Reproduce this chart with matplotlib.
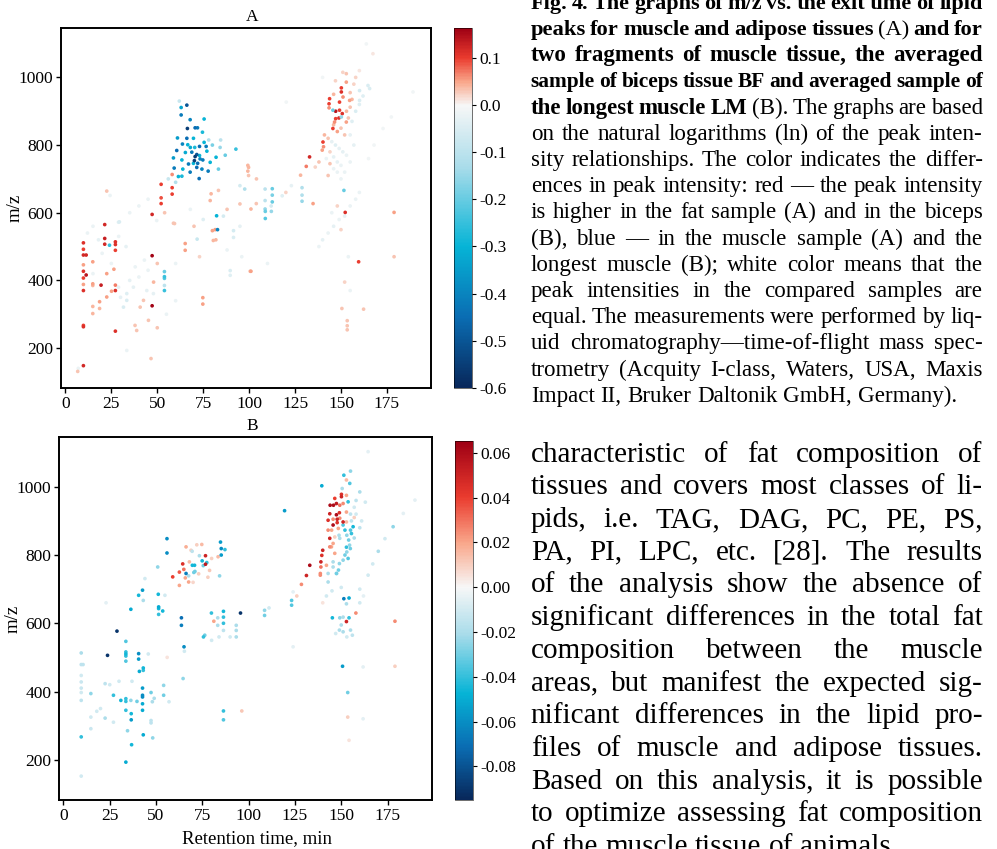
import numpy as np
import matplotlib
matplotlib.use("Agg")
import matplotlib.pyplot as plt
from matplotlib.colors import LinearSegmentedColormap, Normalize
from matplotlib.ticker import FormatStrFormatter

plt.rcParams['font.family'] = ['Liberation Serif', 'DejaVu Serif']
plt.rcParams['axes.unicode_minus'] = False

# peaks as (retention time [min], m/z, ln intensity difference)
# --- A: muscle vs adipose ---
a_muscle_cluster = [
    (66.1, 918, -0.50), (63.0, 911, -0.33), (63.0, 889, -0.42), (67.9, 875, -0.40), (75.5, 877, -0.30),
    (66.4, 849, -0.55), (70.6, 851, -0.45), (71.9, 851, -0.42), (74.6, 838, -0.28), (61.0, 821, -0.35),
    (66.1, 820, -0.45), (69.7, 820, -0.30), (63.7, 803, -0.40), (66.6, 801, -0.30), (68.0, 793, -0.32),
    (70.4, 793, -0.28), (73.0, 796, -0.45), (75.5, 808, -0.30), (76.6, 796, -0.42), (60.6, 784, -0.45),
    (65.3, 778, -0.32), (68.8, 779, -0.42), (71.5, 772, -0.50), (73.0, 769, -0.30), (77.0, 782, -0.30),
    (74.8, 756, -0.42), (82.0, 764, -0.30), (70.6, 766, -0.55), (58.8, 762, -0.35), (63.4, 756, -0.30),
    (67.0, 744, -0.42), (69.7, 746, -0.30), (72.0, 746, -0.45), (78.8, 749, -0.30), (59.2, 732, -0.42),
    (63.9, 729, -0.30), (67.9, 720, -0.42), (71.5, 734, -0.45), (74.3, 729, -0.40), (77.7, 723, -0.42),
    (61.5, 707, -0.30), (63.4, 708, -0.28), (72.8, 701, -0.45), (83.3, 729, -0.20), (87.0, 770, -0.20),
    (84.2, 793, -0.15), (92.8, 788, -0.25), (70.2, 754, -0.55), (73.3, 759, -0.40), (80.0, 800, -0.18),
    (84.5, 815, -0.10), (78.0, 815, -0.12), (62.0, 930, -0.08), (60.0, 690, -0.12), (56.0, 700, -0.08),
]
a_early = [
    (21.4, 565, 0.12), (47.2, 595, 0.12), (29.4, 573, -0.05), (21.4, 524, 0.13), (21.4, 507, 0.12),
    (24.0, 504, -0.25), (27.2, 514, 0.11), (27.2, 506, 0.11), (27.2, 489, 0.10), (9.8, 511, 0.11),
    (9.8, 492, 0.10), (9.8, 475, 0.12), (11.3, 475, 0.12), (14.9, 455, 0.05), (9.8, 446, 0.05),
    (9.8, 427, 0.11), (11.3, 416, 0.14), (9.8, 407, 0.10), (9.8, 388, 0.05), (9.8, 370, 0.11),
    (14.9, 390, 0.05), (14.9, 385, 0.04), (19.4, 386, 0.13), (22.5, 420, 0.05), (26.4, 433, 0.05),
    (27.2, 386, 0.07), (27.2, 370, 0.11), (25.1, 368, 0.05), (22.5, 351, 0.05), (18.6, 337, 0.05),
    (18.6, 317, 0.04), (14.9, 323, 0.04), (14.9, 302, 0.04), (9.8, 263, 0.11), (9.8, 267, 0.10),
    (27.2, 250, 0.11), (9.8, 148, 0.12), (6.7, 131, 0.03), (47.2, 473, 0.16), (47.2, 325, 0.16),
    (53.9, 426, -0.20), (53.9, 411, -0.25), (53.9, 406, -0.22), (53.9, 370, -0.25), (53.9, 385, -0.10),
    (65.2, 509, 0.05), (65.2, 489, 0.05), (82.3, 591, -0.30), (82.8, 550, -0.40), (81.5, 550, 0.05),
    (81.9, 520, 0.04), (71.7, 522, -0.08), (74.8, 349, 0.05), (74.8, 330, 0.05), (59.4, 568, 0.03),
    (58.1, 713, 0.06), (52.1, 684, 0.10), (58.1, 674, 0.10), (58.1, 655, 0.10), (52.1, 644, 0.09),
    (52.1, 627, 0.10), (22.5, 664, 0.03),
]
a_early_faint = [
    (28.9, 380, -0.03), (33.4, 361, -0.04), (37.0, 380, -0.03), (33.4, 341, -0.05), (40.7, 321, 0.03),
    (44.3, 370, -0.03), (47.9, 361, -0.03), (42.5, 341, 0.03), (37.9, 267, 0.03), (38.8, 252, 0.03),
    (45.2, 282, 0.03), (33.4, 193, -0.02), (46.6, 169, 0.03), (31.6, 321, -0.05), (30.0, 350, -0.03),
    (35.0, 400, -0.03), (40.0, 410, -0.02), (45.0, 430, -0.02), (50.0, 450, 0.03), (48.0, 395, 0.04),
    (43.0, 460, -0.02), (38.0, 440, -0.02), (33.0, 500, -0.03), (29.0, 530, -0.02), (24.3, 651, -0.02),
    (28.9, 572, -0.04), (49.7, 577, -0.02), (40.0, 620, -0.02), (45.0, 640, -0.02), (35.0, 600, -0.02),
    (54.0, 600, 0.03), (18.0, 520, -0.03), (15.0, 560, -0.02), (12.0, 540, -0.02), (20.0, 480, -0.02),
    (25.0, 450, -0.02), (15.0, 420, -0.02), (7.0, 140, -0.02), (50.0, 260, 0.03), (55.0, 300, -0.02),
    (60.0, 340, -0.02),
]
a_middle = [
    (112.6, 671, -0.20), (112.6, 652, -0.18), (112.6, 632, -0.20), (128.8, 674, -0.12), (128.8, 652, -0.12),
    (128.8, 634, -0.15), (99.3, 740, 0.04), (99.3, 723, 0.04), (151.6, 666, -0.20), (134.8, 627, 0.05),
    (103.9, 627, 0.03), (108.8, 604, -0.20), (112.1, 604, -0.15), (108.8, 583, -0.22), (152.3, 601, 0.11),
    (178.9, 601, 0.05), (159.6, 455, 0.10), (178.9, 470, 0.03), (101.0, 427, 0.05), (150.5, 317, 0.03),
    (162.3, 315, 0.03), (153.4, 281, 0.03), (153.4, 266, 0.03), (153.4, 254, 0.03),
    (79.3, 656, 0.04), (78.8, 636, 0.04), (83.3, 666, 0.03), (99.7, 734, 0.04), (99.7, 710, 0.03),
    (97.6, 670, -0.12), (95.0, 680, -0.06), (95.0, 626, 0.03), (101.0, 611, 0.04), (108.7, 670, -0.10),
    (108.7, 636, -0.10), (108.7, 611, -0.15), (112.0, 620, -0.06), (58.8, 569, 0.03), (80.0, 547, 0.05),
    (80.5, 518, 0.04), (91.5, 547, -0.06), (91.5, 527, -0.05), (89.7, 429, -0.05), (89.7, 415, -0.04),
    (100.6, 427, 0.04), (86.0, 590, -0.06), (88.0, 610, 0.03), (75.0, 580, -0.04), (70.0, 560, 0.03),
    (68.0, 610, -0.02), (95.0, 560, -0.03), (118.0, 650, -0.04), (123.0, 680, -0.03), (120.0, 660, 0.02),
    (104.0, 700, 0.03), (88.0, 490, -0.02), (96.0, 470, -0.02), (110.0, 450, -0.02), (73.0, 470, 0.02),
    (60.0, 450, -0.02),
]
a_fat_cluster = [
    (132.9, 765, 0.12), (131.1, 737, 0.07), (128.0, 711, 0.04), (140.2, 809, 0.10), (140.5, 795, 0.06),
    (139.8, 785, 0.05), (145.6, 849, 0.10), (146.5, 868, 0.06), (147.1, 878, 0.10), (148.9, 880, 0.11),
    (147.1, 900, 0.14), (149.2, 903, 0.10), (150.7, 893, 0.11), (143.8, 937, 0.10), (143.5, 922, 0.10),
    (143.5, 910, 0.06), (149.2, 927, 0.10), (150.2, 957, 0.11), (150.2, 969, 0.10), (151.1, 942, 0.06),
    (152.9, 986, 0.05), (152.9, 1011, 0.03), (154.7, 932, 0.05), (156.0, 935, 0.04), (155.0, 912, 0.03),
    (152.9, 868, 0.05), (160.1, 932, -0.05), (160.1, 961, -0.06), (164.7, 976, -0.05), (165.6, 967, -0.05),
    (145.6, 903, -0.20), (150.2, 883, -0.15), (146.0, 860, 0.04), (148.0, 840, 0.05), (150.0, 850, 0.03),
    (153.0, 900, 0.04), (155.0, 955, 0.03), (157.0, 980, 0.02), (158.0, 1000, 0.02), (151.0, 1015, 0.02),
    (147.0, 990, 0.02), (146.0, 950, 0.04), (154.0, 880, 0.03), (156.0, 870, -0.04), (158.0, 900, -0.05),
    (160.0, 920, -0.04), (162.0, 945, -0.04), (141.0, 830, 0.04), (143.0, 820, 0.03), (145.0, 810, -0.03),
    (147.0, 800, -0.04), (149.0, 790, -0.03), (151.0, 780, -0.03), (153.0, 770, -0.02), (144.0, 780, 0.02),
    (146.0, 765, -0.03), (148.0, 750, -0.03), (150.0, 740, -0.02), (142.0, 760, -0.02), (144.0, 745, 0.03),
    (146.0, 730, -0.02), (148.0, 720, -0.02), (143.0, 710, 0.03), (150.0, 700, -0.02), (152.0, 720, -0.02),
    (155.0, 750, -0.02), (157.0, 800, -0.03), (155.0, 830, -0.03), (152.0, 830, 0.03), (138.0, 750, 0.03),
    (136.0, 735, 0.02),
    (140.0, 520, -0.03), (143.0, 540, -0.02), (146.0, 560, -0.03), (149.0, 580, -0.02), (152.0, 590, -0.03),
    (155.0, 620, -0.02), (158.0, 640, -0.02), (145.0, 600, -0.02), (148.0, 620, 0.02), (138.0, 500, -0.02),
    (160.0, 660, -0.02), (150.0, 550, 0.02), (154.0, 470, -0.02), (152.0, 395, 0.02), (155.0, 370, -0.02),
    (163.8, 1099, -0.01), (167.4, 1070, 0.01), (189.2, 957, -0.01), (177.4, 883, -0.01), (120.2, 927, -0.01),
    (172.9, 849, -0.01), (168.0, 800, -0.01), (165.0, 760, -0.01), (160.0, 1020, 0.01), (140.0, 1000, -0.01),
]

# --- B: biceps (BF) vs longest muscle (LM) ---
b_early = [
    (9.6, 513, -0.020), (9.6, 479, -0.015), (10.6, 479, -0.015), (9.6, 447, -0.010), (9.6, 428, -0.012),
    (9.6, 410, -0.012), (9.6, 397, -0.010), (9.6, 374, -0.015), (9.6, 267, -0.040), (9.6, 152, -0.010),
    (14.8, 394, -0.025), (14.8, 325, -0.010), (14.8, 291, -0.012), (18.0, 342, -0.010), (22.5, 322, -0.020),
    (22.5, 423, -0.015), (23.8, 506, -0.090), (27.0, 389, -0.040), (28.9, 577, -0.090), (33.7, 547, -0.035),
    (33.7, 516, -0.040), (33.7, 510, -0.045), (33.7, 504, -0.040), (33.7, 489, -0.035), (31.0, 374, -0.045),
    (33.7, 379, -0.040), (33.7, 371, -0.040), (33.7, 345, -0.040), (34.6, 285, -0.025), (33.7, 193, -0.050),
    (36.4, 374, -0.025), (36.6, 335, -0.045), (36.6, 317, -0.055), (36.8, 244, -0.045), (39.7, 371, -0.030),
    (40.6, 511, -0.060), (40.6, 495, -0.055), (41.0, 459, -0.050), (43.1, 469, -0.045), (43.1, 462, -0.040),
    (42.7, 410, -0.055), (42.7, 389, -0.060), (42.7, 384, -0.060), (42.7, 364, -0.050), (42.7, 345, -0.050),
    (43.1, 273, -0.050), (47.3, 397, -0.030), (47.3, 315, -0.015), (47.3, 308, -0.015), (48.2, 264, -0.025),
    (54.1, 418, -0.025), (54.1, 389, -0.030), (45.8, 510, -0.010), (36.4, 641, -0.050), (40.6, 682, -0.045),
    (42.7, 697, -0.055), (43.1, 667, -0.020), (44.0, 731, -0.010), (50.9, 765, -0.025), (51.2, 685, -0.045),
    (51.4, 648, -0.050), (51.4, 643, -0.045), (51.4, 626, -0.040), (53.6, 636, -0.045), (54.8, 682, -0.010),
    (55.9, 848, -0.060), (55.9, 806, -0.060), (63.7, 616, -0.070), (63.7, 594, -0.065), (65.1, 531, -0.060),
    (65.3, 518, -0.010), (64.6, 438, -0.025), (20.0, 350, -0.010), (25.0, 420, -0.010), (30.0, 430, -0.010),
    (27.0, 310, -0.010), (48.0, 370, -0.020), (49.0, 380, -0.020), (57.0, 370, -0.010), (37.0, 430, -0.010),
    (23.0, 660, -0.005), (56.0, 500, 0.005),
]
b_middle = [
    (59.0, 736, 0.040), (62.6, 750, 0.035), (64.4, 774, 0.045), (65.0, 758, 0.030), (62.6, 711, 0.020),
    (65.8, 733, 0.020), (67.6, 721, 0.020), (66.2, 824, 0.018), (68.9, 814, 0.010), (74.7, 831, 0.015),
    (76.7, 798, 0.050), (76.7, 773, 0.055), (78.9, 755, 0.012), (83.5, 795, 0.015), (69.5, 811, -0.015),
    (69.6, 770, -0.045), (70.8, 770, -0.045), (71.0, 752, -0.030), (66.2, 746, -0.065), (70.4, 749, -0.030),
    (73.4, 798, -0.020), (74.9, 783, -0.045), (77.4, 778, -0.040), (75.5, 769, -0.030), (67.6, 739, -0.020),
    (84.3, 739, -0.025), (84.8, 838, -0.055), (85.2, 819, -0.060), (85.2, 800, -0.055), (87.2, 816, -0.040),
    (72.0, 830, 0.010), (80.0, 790, 0.010), (68.0, 780, 0.015), (73.0, 745, 0.010), (78.0, 735, 0.010),
    (70.0, 720, 0.008),
    (75.6, 560, -0.040), (76.3, 565, -0.030), (79.9, 630, -0.040), (81.2, 606, 0.020), (83.3, 616, -0.020),
    (83.3, 594, -0.020), (86.4, 635, -0.045), (86.4, 618, -0.040), (86.4, 600, -0.040), (86.4, 579, -0.015),
    (93.3, 594, -0.020), (93.3, 579, -0.020), (93.3, 560, -0.020), (95.6, 630, -0.090), (108.6, 638, -0.025),
    (108.6, 623, -0.030), (111.0, 645, -0.010), (86.4, 343, -0.040), (86.4, 317, -0.035), (96.3, 343, 0.012),
    (119.4, 930, -0.055), (124.0, 692, -0.005), (123.2, 667, -0.035), (123.2, 653, -0.035), (128.5, 714, 0.025),
    (131.2, 740, 0.050), (133.0, 770, 0.060), (124.0, 531, -0.005), (126.0, 680, 0.010), (80.0, 550, -0.010),
    (90.0, 560, -0.010), (84.0, 560, -0.010),
]
b_late = [
    (139.5, 1003, -0.050), (151.4, 1034, -0.040), (155.0, 1046, -0.025), (152.8, 1020, 0.015), (154.6, 1010, -0.035),
    (150.5, 995, -0.020), (150.1, 978, 0.045), (150.1, 971, 0.050), (152.8, 975, 0.020), (146.5, 966, 0.040),
    (147.4, 951, 0.055), (149.2, 946, 0.030), (151.0, 951, 0.025), (145.8, 946, 0.060), (144.0, 946, 0.060),
    (153.7, 956, -0.040), (143.8, 921, 0.050), (147.4, 918, 0.060), (149.0, 924, 0.045), (152.8, 926, 0.020),
    (155.0, 920, -0.015), (157.0, 910, 0.010), (142.9, 902, 0.045), (145.6, 905, 0.025), (147.8, 905, 0.050),
    (147.8, 895, 0.045), (149.2, 908, 0.025), (151.0, 897, 0.050), (152.8, 897, 0.015), (155.5, 900, -0.015),
    (142.9, 873, 0.025), (144.8, 873, 0.020), (145.6, 888, 0.060), (148.4, 878, 0.020), (151.0, 888, -0.035),
    (152.0, 873, -0.040), (156.4, 883, -0.045), (143.8, 849, 0.050), (143.8, 824, 0.025), (144.7, 824, 0.020),
    (145.6, 834, 0.020), (146.5, 853, 0.010), (148.8, 858, -0.020), (149.2, 849, -0.020), (153.0, 858, -0.025),
    (154.0, 844, -0.030), (154.5, 829, -0.025), (154.9, 819, -0.030), (153.0, 809, -0.025), (152.0, 800, -0.030),
    (151.0, 785, -0.025), (149.0, 775, -0.025), (148.5, 756, -0.030), (147.5, 746, -0.020), (155.5, 863, -0.040),
    (155.0, 873, -0.035), (152.8, 823, -0.040), (153.7, 790, -0.035), (140.0, 814, 0.050), (139.5, 799, 0.045),
    (139.0, 780, 0.050), (139.0, 765, 0.030), (138.7, 746, 0.025), (138.7, 741, 0.025), (142.0, 770, 0.020),
    (142.9, 746, -0.020), (142.9, 721, -0.020), (145.6, 780, -0.020), (145.6, 765, -0.020), (146.5, 805, 0.020),
    (147.4, 746, -0.030), (151.4, 672, -0.065), (154.2, 674, -0.050), (145.2, 616, -0.045), (149.2, 616, -0.025),
    (151.0, 618, -0.020), (152.8, 605, 0.050), (154.2, 616, -0.040), (157.9, 630, 0.025), (152.8, 657, -0.020),
    (150.0, 595, -0.020), (149.0, 580, -0.020), (151.0, 575, -0.020), (155.0, 580, -0.020), (156.0, 565, -0.015),
    (147.0, 570, -0.010), (153.0, 560, -0.010), (150.7, 474, -0.055), (161.8, 472, -0.005), (153.5, 397, -0.030),
    (153.5, 325, 0.010), (154.2, 257, 0.005), (161.8, 320, -0.005), (179.0, 606, 0.025), (179.0, 474, 0.010),
    (178.0, 883, -0.025), (173.6, 848, -0.010), (170.0, 811, -0.020), (167.0, 774, -0.010), (164.5, 741, -0.010),
    (160.0, 700, -0.010), (160.0, 660, -0.010), (162.0, 680, -0.005), (164.5, 1103, -0.005), (160.0, 985, -0.020),
    (163.0, 955, -0.010), (189.8, 961, -0.005), (183.5, 922, -0.005), (158.0, 960, -0.015), (157.0, 940, -0.010),
    (158.0, 920, -0.010), (160.0, 880, -0.015), (157.0, 850, -0.020), (161.0, 900, -0.010), (145.0, 695, -0.010),
    (142.0, 680, -0.010), (140.0, 660, 0.005), (150.0, 705, -0.010),
]

range_a = (-0.6, 0.163)
range_b = (-0.095, 0.0653)
ticks_a = [0.1, 0.0, -0.1, -0.2, -0.3, -0.4, -0.5, -0.6]
ticks_b = [0.06, 0.04, 0.02, 0.00, -0.02, -0.04, -0.06, -0.08]

caption = [
    ("Fig. 4. The graphs of m/z vs. the exit time of lipid", True),
    ("peaks for muscle and adipose tissues |(A)| and for", True),
    ("two fragments of muscle tissue, the averaged", True),
    ("sample of biceps tissue BF and averaged sample of", True),
    ("the longest muscle LM| (B). The graphs are based", True),
    ("on the natural logarithms (ln) of the peak inten-", False),
    ("sity relationships. The color indicates the differ-", False),
    ("ences in peak intensity: red \u2014 the peak intensity", False),
    ("is higher in the fat sample (A) and in the biceps", False),
    ("(B), blue \u2014 in the muscle sample (A) and the", False),
    ("longest muscle (B); white color means that the", False),
    ("peak intensities in the compared samples are", False),
    ("equal. The measurements were performed by liq-", False),
    ("uid chromatography\u2014time-of-flight mass spec-", False),
    ("trometry (Acquity I-class, Waters, USA, Maxis", False),
    ("Impact II, Bruker Daltonik GmbH, Germany).", False),
]
body = [
    "characteristic of fat composition of",
    "tissues and covers most classes of li-",
    "pids, i.e. TAG, DAG, PC, PE, PS,",
    "PA, PI, LPC, etc. [28]. The results",
    "of the analysis show the absence of",
    "significant differences in the total fat",
    "composition between the muscle",
    "areas, but manifest the expected sig-",
    "nificant differences in the lipid pro-",
    "files of muscle and adipose tissues.",
    "Based on this analysis, it is possible",
    "to optimize assessing fat composition",
    "of the muscle tissue of animals.",
]

W, H = 997, 849
fig = plt.figure(figsize=(W / 100, H / 100), dpi=100)
fig.patch.set_facecolor('white')


def diverging(vmin, vmax):
    # white sits at zero, blues below and reds above
    f = -vmin / (vmax - vmin)
    stops = [0.0, 0.25 * f, 0.5 * f, 0.78 * f, f,
             f + 0.3 * (1 - f), f + 0.62 * (1 - f), 1.0]
    cols = ['#08275a', '#0a6db3', '#06b4d6', '#a9dcea', '#f7f7f7',
            '#f9a88c', '#ea3b2e', '#9e0014']
    return LinearSegmentedColormap.from_list('rdcy', list(zip(stops, cols)))


def px_box(x0, y0, x1, y1):
    return [x0 / W, 1 - y1 / H, (x1 - x0) / W, (y1 - y0) / H]


def panel(ax_box, cb_box, groups, vrange, ticks, fmt, title):
    ax = fig.add_axes(px_box(*ax_box))
    pts = [p for g in groups for p in g]
    rt = np.array([p[0] for p in pts])
    mz = np.array([p[1] for p in pts])
    d = np.array([p[2] for p in pts])
    order = np.argsort(np.abs(d))
    cmap = diverging(*vrange)
    norm = Normalize(*vrange)
    sc = ax.scatter(rt[order], mz[order], c=d[order], cmap=cmap, norm=norm,
                    s=7, edgecolors='none', zorder=2)
    ax.set_xlim(-2.4, 199)
    ax.set_ylim(82, 1146)
    ax.set_xticks([0, 25, 50, 75, 100, 125, 150, 175])
    ax.set_yticks([200, 400, 600, 800, 1000])
    ax.tick_params(labelsize=12.5, length=3.5, width=1, pad=2)
    for s in ax.spines.values():
        s.set_linewidth(1.4)
    ax.set_title(title, fontsize=12.5, x=0.517, pad=5)
    ax.set_ylabel('m/z', fontsize=13.5)
    ax.yaxis.set_label_coords(-0.1, 0.5)

    cax = fig.add_axes(px_box(*cb_box))
    cb = fig.colorbar(sc, cax=cax, ticks=ticks)
    cb.ax.yaxis.set_major_formatter(FormatStrFormatter(fmt))
    cb.ax.tick_params(labelsize=12.5, length=3, width=0.8, pad=2)
    cb.outline.set_linewidth(0.4)
    return ax


ax_a = panel((61, 28, 431, 388), (454, 28, 472, 388),
             [a_early_faint, a_middle, a_fat_cluster, a_early, a_muscle_cluster],
             range_a, ticks_a, '%.1f', 'A')
ax_b = panel((59, 437, 432, 800), (455, 441, 473, 800),
             [b_early, b_middle, b_late], range_b, ticks_b, '%.2f', 'B')
ax_b.set_xlabel('Retention time, min', fontsize=13.5)
ax_b.xaxis.set_label_coords(0.532, -0.083)

# justified text column on the right
renderer = fig.canvas.get_renderer()


def set_line(words, y_base, x0, x1, size, justify=True):
    objs = [fig.text(0, 1 - y_base / H, w, fontsize=size, fontweight=wt,
                     va='baseline', ha='left') for w, wt in words]
    widths = [o.get_window_extent(renderer).width for o in objs]
    min_gap = 0.2 * size * 100 / 72
    need = sum(widths) + min_gap * (len(objs) - 1)
    if need > x1 - x0:
        # squeeze an over-long line down to the column width
        k = (x1 - x0) / need
        for o in objs:
            o.set_fontsize(size * k)
        widths = [o.get_window_extent(renderer).width for o in objs]
    if justify and len(objs) > 1:
        gap = (x1 - x0 - sum(widths)) / (len(objs) - 1)
    else:
        gap = 0.25 * size * 100 / 72
    x = x0
    for o, wd in zip(objs, widths):
        o.set_x(x / W)
        x += wd + gap


def split_styled(line, bold_first):
    words = []
    bold = bold_first
    for part in line.split('|'):
        for w in part.split():
            words.append((w, 'bold' if bold else 'normal'))
        bold = not bold
    return words


x_left, x_right = 530.7, 982.7
for i, (line, bold_first) in enumerate(caption):
    set_line(split_styled(line, bold_first), 8.8 + 26.2 * i, x_left, x_right,
             16.6, justify=(i != len(caption) - 1))

for i, line in enumerate(body):
    set_line([(w, 'normal') for w in line.split()], 461.7 + 32.7 * i,
             x_left, x_right, 21.0, justify=(i != len(body) - 1))

fig.savefig('out.png', dpi=100)
